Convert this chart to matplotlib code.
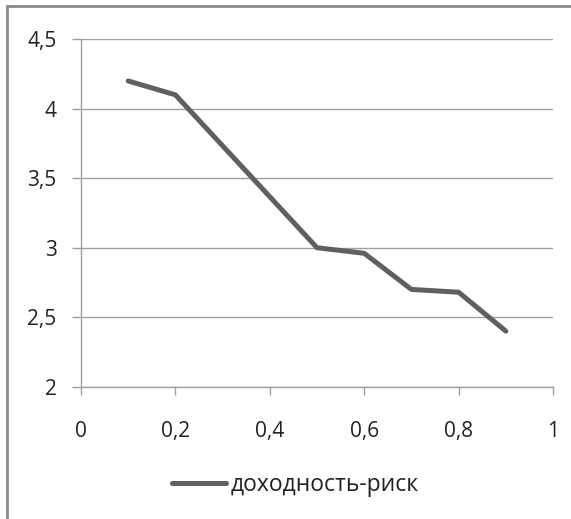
import numpy as np
import matplotlib.pyplot as plt
from matplotlib.patches import Rectangle

# данные
risk = [0.1, 0.2, 0.5, 0.6, 0.7, 0.8, 0.9]
yield_ = [4.2, 4.1, 3.0, 2.96, 2.7, 2.68, 2.4]
series_name = "доходность-риск"

x_ticks = [0, 0.2, 0.4, 0.6, 0.8, 1]
y_ticks = [2, 2.5, 3, 3.5, 4, 4.5]


def fmt(v):
    return ("%g" % v).replace(".", ",")


plt.rcParams["font.family"] = ["Open Sans", "DejaVu Sans"]

fig = plt.figure(figsize=(5.71, 5.19), dpi=100)
ax = fig.add_axes([0.1419, 0.2549, 0.8266, 0.6694])

ax.plot(risk, yield_, color="#606060", linewidth=3.6, label=series_name,
        solid_capstyle="round")

ax.set_xlim(0, 1)
ax.set_ylim(2, 4.5)
ax.set_xticks(x_ticks)
ax.set_xticklabels([fmt(v) for v in x_ticks])
ax.set_yticks(y_ticks)
ax.set_yticklabels([fmt(v) for v in y_ticks])

ax.grid(axis="y", color="#a0a0a0", linewidth=1)
ax.set_axisbelow(True)
for side in ("top", "right"):
    ax.spines[side].set_visible(False)
for side in ("left", "bottom"):
    ax.spines[side].set_color("#a0a0a0")
    ax.spines[side].set_linewidth(1)

ax.tick_params(axis="y", length=6.5, width=1, color="#a0a0a0",
               labelsize=15, pad=11, labelcolor="#222222")
ax.tick_params(axis="x", length=6, width=1, color="#a0a0a0",
               labelsize=15, pad=19, labelcolor="#222222")

fig.legend(loc="center", bbox_to_anchor=(0.5175, 1 - 485 / 519),
           frameon=False, fontsize=16.5, handlelength=2.35,
           handletextpad=0.18, labelcolor="#222222")

# рамка области диаграммы
fig.patches.append(Rectangle((7 / 571, -0.1), 1.2, 1.1 - 6 / 519,
                             transform=fig.transFigure, fill=False,
                             edgecolor="#8a8a8a", linewidth=2))

fig.savefig("out.png", dpi=100)
